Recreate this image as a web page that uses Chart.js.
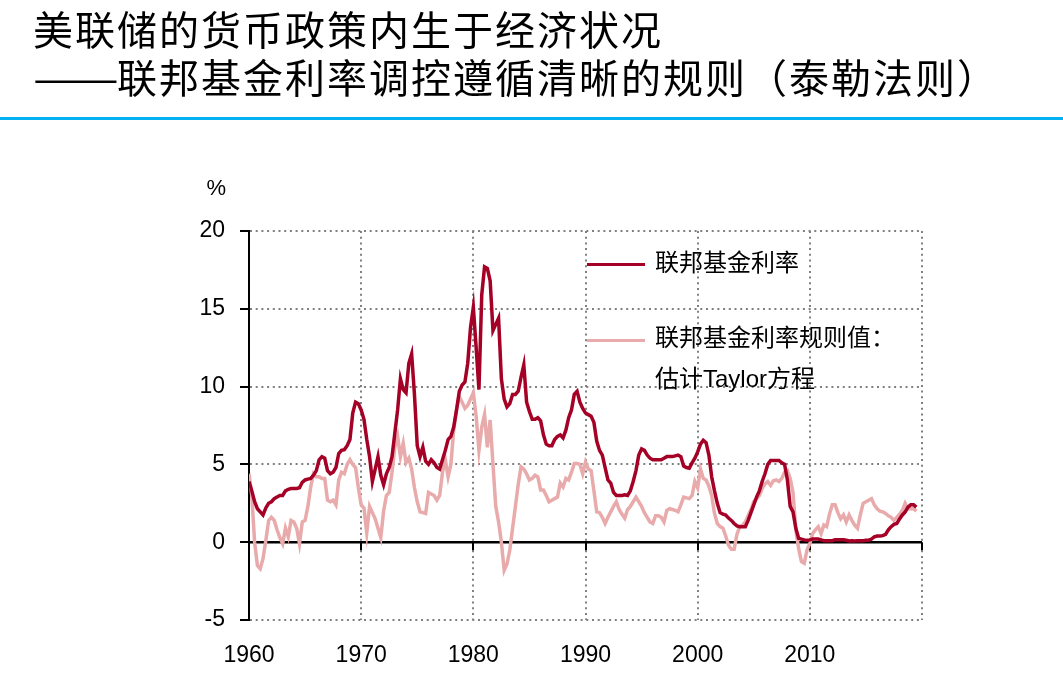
<!DOCTYPE html>
<html>
<head>
<meta charset="utf-8">
<script src="https://cdn.jsdelivr.net/npm/chart.js@4/dist/chart.umd.min.js"></script>
<style>
  body { margin: 0; background: #fff; }
  #wrap { position: relative; width: 1063px; height: 683px; overflow: hidden; }
  #chart { position: absolute; left: 0; top: 0; }
  .title { position: absolute; left: 33px; top: 4px; font-family: "Noto Sans CJK SC", sans-serif; font-size: 40px; letter-spacing: 2px; line-height: 48px; color: #000; white-space: nowrap; }
  .dash { display: inline-block; width: 84px; letter-spacing: 0; transform: scaleX(1.28); transform-origin: left center; }
  .rule { position: absolute; left: 0; top: 117px; width: 1063px; height: 3px; background: #00B0F0; }
  .unit { position: absolute; right: calc(1063px - 226px); top: 175px; font-family: "Liberation Sans", sans-serif; font-size: 22px; color: #000; }
  .lg-line { position: absolute; left: 587px; width: 58px; height: 3px; }
  .lg-text { position: absolute; left: 655px; font-family: "Liberation Sans", "Noto Sans CJK SC", sans-serif; font-size: 24px; line-height: 30px; color: #000; white-space: nowrap; }
</style>
</head>
<body>
<div id="wrap">
  <canvas id="chart" width="1063" height="683"></canvas>
  <div class="title">美联储的货币政策内生于经济状况<br><span class="dash">——</span>联邦基金利率调控遵循清晰的规则（泰勒法则）</div>
  <div class="rule"></div>
  <div class="unit">%</div>
  <div class="lg-line" style="top:263px;background:#A50026"></div>
  <div class="lg-text" style="top:248px">联邦基金利率</div>
  <div class="lg-line" style="top:339px;background:#E8AAAA"></div>
  <div class="lg-text" style="top:323px">联邦基金利率规则值：</div>
  <div class="lg-text" style="top:364px">估计Taylor方程</div>
</div>
<script>
// 季度数据，从1960年第一季度开始
const startYear = 1960;
const seriesNames = ['联邦基金利率', '联邦基金利率规则值：估计Taylor方程'];
const xTickYears = [1960, 1970, 1980, 1990, 2000, 2010];
const yTicks = [-5, 0, 5, 10, 15, 20];

// 联邦基金利率 (%)
const fedFunds = [
  3.9, 3.3, 2.6, 2.15,  1.95, 1.75, 2.2, 2.5,  2.6, 2.8, 2.9, 3.0,  3.0, 3.3, 3.4, 3.45,
  3.45, 3.45, 3.5, 3.85,  4.0, 4.05, 4.1, 4.3,  4.6, 5.3, 5.5, 5.4,  4.6, 4.4, 4.5, 4.8,
  5.7, 5.9, 5.95, 6.2,  6.6, 8.3, 9.0, 8.9,
  8.5, 7.9, 6.6, 5.5,  3.9, 4.7, 5.5, 4.3,  3.7, 4.4, 4.8, 5.5,  7.0, 8.5, 10.5, 9.8,
  9.6, 11.5, 12.1, 9.5,  6.2, 5.5, 6.1, 5.2,  5.0, 5.3, 5.1, 4.8,  4.7, 5.3, 5.9, 6.6,
  6.8, 7.4, 8.5, 9.7,  10.1, 10.3, 11.5, 13.8,
  15.1, 12.5, 9.8, 15.9,  17.7, 17.6, 16.8, 13.6,  14.0, 14.4, 10.5, 9.2,  8.7, 8.9, 9.5, 9.5,
  9.7, 10.6, 11.4, 9.0,  8.4, 7.9, 7.9, 8.0,  7.8, 6.9, 6.3, 6.2,  6.2, 6.6, 6.8, 6.9,
  6.7, 7.2, 8.0, 8.5,  9.5, 9.7, 9.0, 8.6,
  8.3, 8.2, 8.1, 7.7,  6.5, 5.9, 5.6, 4.8,  4.0, 3.8, 3.2, 3.0,  3.0, 3.0, 3.05, 3.0,
  3.3, 3.9, 4.6, 5.6,  6.0, 5.9, 5.6, 5.4,  5.3, 5.3, 5.3, 5.3,  5.4, 5.5, 5.5, 5.5,
  5.55, 5.6, 5.5, 4.9,  4.8, 4.75, 5.1, 5.4,
  5.8, 6.3, 6.55, 6.4,  5.6, 4.2, 3.3, 2.5,  1.9, 1.8, 1.75, 1.55,  1.4, 1.2, 1.05, 1.0,
  1.0, 1.0, 1.4, 1.9,  2.4, 2.9, 3.3, 3.9,  4.4, 5.0, 5.25, 5.25,  5.25, 5.25, 5.1, 5.0,
  4.0, 2.3, 1.95, 0.9,  0.25, 0.2, 0.15, 0.12,
  0.15, 0.2, 0.2, 0.2,  0.15, 0.1, 0.1, 0.1,  0.1, 0.15, 0.15, 0.16,  0.15, 0.12, 0.08, 0.09,
  0.08, 0.09, 0.09, 0.1,  0.12, 0.13, 0.2, 0.35,  0.4, 0.4, 0.42, 0.5,  0.8, 1.0, 1.15, 1.2,
  1.5, 1.75, 1.95, 2.25,  2.4, 2.4, 2.25
];

// 泰勒规则估计值 (%)
const taylorRule = [
  4.4, 3.0, 0.0, -1.5,  -1.7, -1.05, 0.1, 1.4,  1.6, 1.4, 0.8, 0.3,  -0.1, 0.9, 0.35, 1.4,
  1.3, 0.9, -0.1, 1.3,  1.4, 2.3, 3.55, 4.4,  4.2, 4.2, 4.1, 4.1,  2.7, 2.6, 2.7, 2.4,
  4.0, 4.5, 4.4, 5.0,  5.3, 5.0, 4.8, 3.5,
  2.4, 2.2, 0.6, 2.3,  1.9, 1.5, 0.9, 0.3,  2.0, 3.0, 3.2, 4.5,  6.1, 6.8, 5.5, 6.35,
  5.1, 5.4, 4.7, 3.5,  2.6, 1.95, 1.9, 1.85,  3.2, 3.1, 3.0, 2.7,  3.0, 4.5, 5.3, 4.2,
  5.0, 7.2, 8.5, 9.35,  9.0, 8.6, 8.8, 9.2,
  9.6, 8.1, 5.9, 7.4,  8.2, 6.1, 7.85, 5.0,  2.3, 1.3, 0.0, -1.8,  -1.4, -0.5, 0.9, 2.3,
  3.7, 4.85, 4.7, 4.4,  4.0, 4.1, 4.3, 4.2,  3.35, 3.35, 3.0, 2.6,  2.7, 2.8, 2.9, 3.8,
  3.55, 4.1, 4.0, 4.5,  5.05, 5.05, 5.0, 4.4,
  5.15, 4.7, 4.6, 3.3,  1.95, 1.9, 1.6, 1.2,  1.6, 1.95, 2.3, 2.6,  2.1, 1.8, 1.55, 2.1,
  2.3, 2.6, 2.9, 2.6,  2.3, 1.9, 1.6, 1.3,  1.2, 1.7, 1.7, 1.6,  1.3, 2.05, 2.15, 2.1,
  2.05, 1.95, 2.4, 2.9,  2.85, 2.8, 3.0, 3.9,
  3.5, 4.7, 4.1, 4.0,  3.6, 3.0, 1.85, 1.2,  1.0, 0.9, 0.4, -0.2,  -0.45, -0.45, 0.5, 1.0,
  1.1, 1.3, 1.7, 2.1,  2.6, 2.8, 3.0, 3.45,  3.75, 3.9, 3.65, 3.95,  4.0, 3.9, 4.1, 4.5,
  4.6, 4.1, 3.2, 0.8,  -0.4, -1.25, -1.35, -0.5,
  -0.1, 0.55, 0.8, 1.0,  0.55, 1.1, 1.0, 1.8,  2.4, 2.4, 1.9, 1.5,  1.75, 1.3, 1.75, 1.4,
  1.1, 0.9, 1.75, 2.5,  2.6, 2.7, 2.8, 2.4,  2.15, 2.0, 1.95, 1.85,  1.7, 1.6, 1.4, 1.6,
  1.8, 2.05, 2.5, 2.15,  2.15, 2.15, 2.0
];

function toPoints(values) {
  return values.map((v, i) => ({ x: startYear + i / 4, y: v }));
}

// 0轴实线和下方的刻度
const zeroLine = {
  id: 'zeroLine',
  beforeDatasetsDraw(chart) {
    const { ctx, chartArea, scales: { x, y } } = chart;
    const y0 = y.getPixelForValue(0);
    ctx.save();
    ctx.strokeStyle = '#000';
    ctx.lineWidth = 2.5;
    ctx.beginPath();
    ctx.moveTo(chartArea.left, y0);
    ctx.lineTo(chartArea.right, y0);
    ctx.stroke();
    ctx.lineWidth = 2;
    ctx.beginPath();
    x.ticks.forEach(t => {
      if (t.value > startYear) {
        const px = Math.round(x.getPixelForValue(t.value));
        ctx.moveTo(px, y0);
        ctx.lineTo(px, y0 + 8);
      }
    });
    ctx.stroke();
    ctx.restore();
  }
};

const gridGrey = '#808080';
const tickFont = { family: 'Liberation Sans', size: 23 };

new Chart(document.getElementById('chart'), {
  type: 'line',
  data: {
    datasets: [
      { label: seriesNames[0], data: toPoints(fedFunds), borderColor: '#A50026', borderWidth: 3.5, pointRadius: 0, tension: 0 },
      { label: seriesNames[1], data: toPoints(taylorRule), borderColor: '#E8AAAA', borderWidth: 3.5, pointRadius: 0, tension: 0 }
    ]
  },
  options: {
    responsive: false,
    animation: false,
    devicePixelRatio: 1,
    layout: { padding: { top: 231, right: 141, left: 0, bottom: 0 } },
    plugins: { legend: { display: false }, tooltip: { enabled: false } },
    scales: {
      x: {
        type: 'linear',
        min: 1960,
        max: 2020,
        afterFit: s => { s.height = 63; },
        afterBuildTicks: s => { s.ticks = xTickYears.concat([2020]).map(v => ({ value: v })); },
        ticks: {
          color: '#000', font: tickFont, padding: 22, maxRotation: 0,
          callback: v => xTickYears.includes(v) ? String(v) : ''
        },
        grid: {
          drawTicks: false, lineWidth: 2,
          color: c => c.tick && c.tick.value === 1960 ? 'rgba(0,0,0,0)' : gridGrey
        },
        border: { display: false, dash: [2, 3.7] }
      },
      y: {
        min: -5,
        max: 20,
        afterFit: s => { s.width = 249; },
        afterBuildTicks: s => { s.ticks = yTicks.map(v => ({ value: v })); },
        ticks: { color: '#000', font: tickFont, padding: 15 },
        grid: {
          lineWidth: 2, tickLength: 9, tickWidth: 2, tickColor: '#000', tickBorderDash: [],
          color: c => c.tick && c.tick.value === 0 ? 'rgba(0,0,0,0)' : gridGrey
        },
        border: { display: true, color: '#000', width: 2, dash: [2, 3.7] }
      }
    }
  },
  plugins: [zeroLine]
});
</script>
</body>
</html>
